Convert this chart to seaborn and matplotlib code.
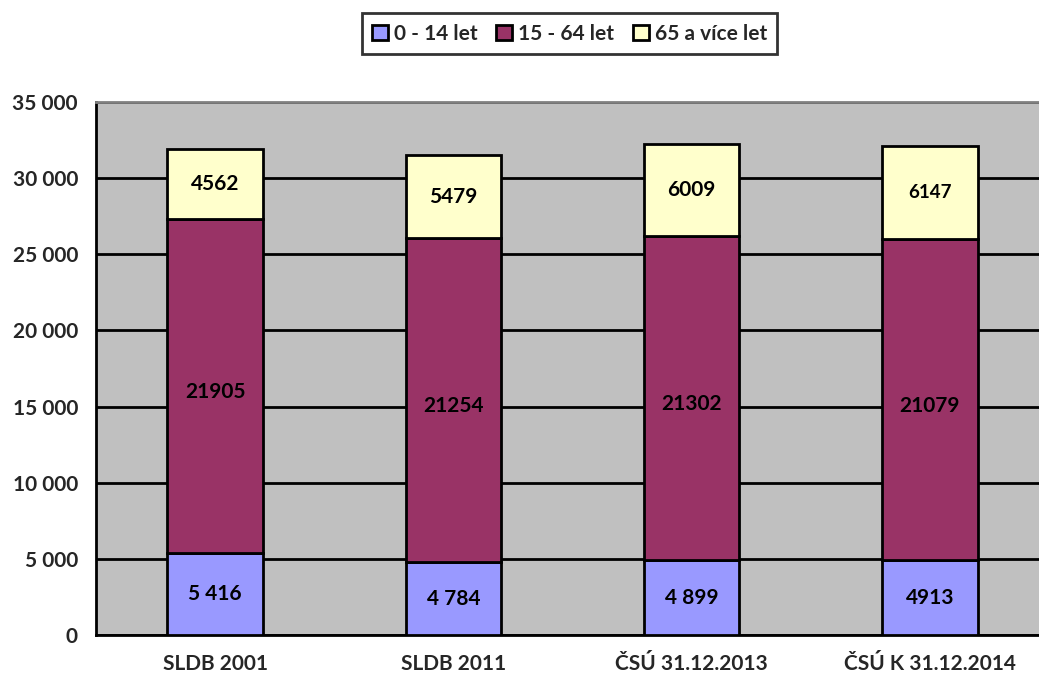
import matplotlib
matplotlib.use("Agg")
import matplotlib.pyplot as plt
import matplotlib.ticker as mticker
import seaborn as sns
import numpy as np

categories = ["SLDB 2001", "SLDB 2011", "ČSÚ 31.12.2013", "ČSÚ K 31.12.2014"]
series_names = ["0 - 14 let", "15 - 64 let", "65 a více let"]
young = [5416, 4784, 4899, 4913]
working = [21905, 21254, 21302, 21079]
old = [4562, 5479, 6009, 6147]
young_labels = ["5 416", "4 784", "4 899", "4913"]
working_labels = ["21905", "21254", "21302", "21079"]
old_labels = ["4562", "5479", "6009", "6147"]
yticks = [0, 5000, 10000, 15000, 20000, 25000, 30000, 35000]

colors = ["#9999FF", "#993366", "#FFFFCC"]

sns.set_style("white")
plt.rcParams["font.family"] = ["Lato", "DejaVu Sans"]
plt.rcParams["font.weight"] = "bold"

FS = 15

fig = plt.figure(figsize=(10.39, 6.82), dpi=100)
ax = fig.add_axes([96 / 1039, 1 - 635 / 682, (1049 - 96) / 1039, (635 - 102) / 682])
ax.set_facecolor("#C0C0C0")

bottoms = [np.zeros(len(categories)), np.array(young, float), np.array(young, float) + np.array(working, float)]
vals = [young, working, old]

ax.set_axisbelow(True)
for i, (name, v) in enumerate(zip(series_names, vals)):
    sns.barplot(x=categories, y=v, bottom=bottoms[i], color=colors[i], edgecolor="black",
                linewidth=2, width=0.4, ax=ax, label=name, saturation=1, zorder=3)

all_labels = [young_labels, working_labels, old_labels]
for i in range(3):
    for j in range(len(categories)):
        yc = bottoms[i][j] + vals[i][j] / 2
        size = FS
        if i == 2 and j == 3:
            size = 13.5
        if i == 1:
            yc -= 400
        ax.text(j, yc, all_labels[i][j], ha="center", va="center", fontsize=size,
                fontweight="bold", color="black", zorder=5)

ax.set_xlim(-0.5, 3.5)
ax.set_ylim(0, 35000)
ax.set_yticks(yticks)
ax.yaxis.set_major_formatter(mticker.FuncFormatter(lambda v, p: f"{v:,.0f}".replace(",", " ")))
ax.grid(axis="y", color="black", linewidth=2, zorder=0)
ax.grid(axis="x", visible=False)

ax.set_xticks(range(len(categories)))
ax.set_xticklabels(categories, fontsize=FS, fontweight="bold")
ax.set_xticks(np.arange(-0.5, 4.0, 1.0), minor=True)
ax.tick_params(axis="x", which="major", length=0, pad=14)
ax.tick_params(axis="x", which="minor", length=7, width=2, direction="out", color="black")
ax.tick_params(axis="y", length=7, width=2, direction="out", color="black", labelsize=FS, pad=6)
for lbl in ax.get_yticklabels():
    lbl.set_fontweight("bold")

ax.set_xlabel("")
ax.set_ylabel("")
for s in ["left", "bottom"]:
    ax.spines[s].set_color("black")
    ax.spines[s].set_linewidth(2)
ax.spines["top"].set_color("#808080")
ax.spines["top"].set_linewidth(2)
ax.spines["right"].set_visible(False)

handles, labels = ax.get_legend_handles_labels()
leg = fig.legend(handles[:3], labels[:3], loc="center", bbox_to_anchor=(569.5 / 1039, 1 - 33.5 / 682),
                 ncol=3, frameon=True, fancybox=False, edgecolor="black",
                 handlelength=0.75, handleheight=0.75, handletextpad=0.3, columnspacing=0.9,
                 borderpad=0.5, borderaxespad=0, prop={"weight": "bold", "size": FS})
leg.get_frame().set_linewidth(2)
if ax.get_legend() is not None:
    ax.get_legend().remove()

fig.savefig("out.png", dpi=100)
